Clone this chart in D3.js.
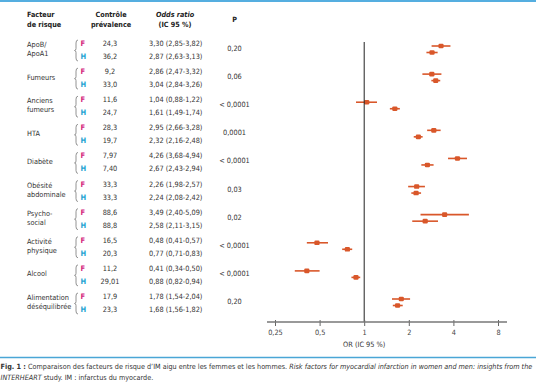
<!DOCTYPE html>
<html>
<head>
<meta charset="utf-8">
<script src="https://cdn.jsdelivr.net/npm/d3@7"></script>
<style>
  body { margin: 0; background: #fff; }
  svg { display: block; font-family: "Liberation Sans Narrow", "DejaVu Sans Condensed", "Roboto", sans-serif; }
  .txt { fill: #333; font-size: 7.3px; }
  .hdr { fill: #222; font-size: 7.2px; font-weight: bold; }
</style>
</head>
<body>
<div id="graph"></div>
<script>
var facteurs = [
  ['ApoB/', 'ApoA1'], ['Fumeurs'], ['Anciens', 'fumeurs'], ['HTA'], ['Diabète'],
  ['Obésité', 'abdominale'], ['Psycho-', 'social'], ['Activité', 'physique'],
  ['Alcool'], ['Alimentation', 'déséquilibrée'],
]
var prevF = ['24,3', '9,2', '11,6', '28,3', '7,97', '33,3', '88,6', '16,5', '11,2', '17,9']
var prevH = ['36,2', '33,0', '24,7', '19,7', '7,40', '33,3', '88,8', '20,3', '29,01', '23,3']
var orF = [3.30, 2.86, 1.04, 2.95, 4.26, 2.26, 3.49, 0.48, 0.41, 1.78]
var loF = [2.85, 2.47, 0.88, 2.66, 3.68, 1.98, 2.40, 0.41, 0.34, 1.54]
var hiF = [3.82, 3.32, 1.22, 3.28, 4.94, 2.57, 5.09, 0.57, 0.50, 2.04]
var orH = [2.87, 3.04, 1.61, 2.32, 2.67, 2.24, 2.58, 0.77, 0.88, 1.68]
var loH = [2.63, 2.84, 1.49, 2.16, 2.43, 2.08, 2.11, 0.71, 0.82, 1.56]
var hiH = [3.13, 3.26, 1.74, 2.48, 2.94, 2.42, 3.15, 0.83, 0.94, 1.82]
var pValues = ['0,20', '0,06', '< 0,0001', '0,0001', '< 0,0001', '0,03', '0,02', '< 0,0001', '< 0,0001', '0,20']
var tickValues = [0.25, 0.5, 1, 2, 4, 8]
var tickLabels = ['0,25', '0,5', '1', '2', '4', '8']

var fr = d3.formatLocale({ decimal: ',', thousands: ' ', grouping: [3], currency: ['', ' €'] })
var f2 = fr.format('.2f')
var orText = (o, l, h) => f2(o) + ' (' + f2(l) + '-' + f2(h) + ')'

var markColor = '#d9572a'

var svg = d3.select('#graph').append('svg')
  .attr('width', 536)
  .attr('height', 386)

// top rule and caption rule
svg.append('rect').attr('x', 0).attr('y', 0).attr('width', 536).attr('height', 2).attr('fill', '#55aee0')
svg.append('line').attr('x1', 0).attr('x2', 536).attr('y1', 357.5).attr('y2', 357.5)
  .attr('stroke', '#4aa6d6').attr('stroke-width', 1.5)

var x = d3.scaleLog().base(2).domain([0.25, 8]).range([275, 498])
var row = d3.scaleLinear().domain([0, facteurs.length - 1]).range([44, 297])
var rowGap = 13

// headers
var hdr = svg.append('g').attr('class', 'hdr').attr('dominant-baseline', 'middle')
hdr.append('text').attr('x', 27).attr('y', 15).text('Facteur')
hdr.append('text').attr('x', 27).attr('y', 25).text('de risque')
hdr.append('text').attr('x', 111).attr('y', 15).attr('text-anchor', 'middle').text('Contrôle')
hdr.append('text').attr('x', 111).attr('y', 25).attr('text-anchor', 'middle').text('prévalence')
hdr.append('text').attr('x', 175).attr('y', 15).attr('text-anchor', 'middle').attr('font-style', 'italic').text('Odds ratio')
hdr.append('text').attr('x', 175).attr('y', 25).attr('text-anchor', 'middle').text('(IC 95 %)')
hdr.append('text').attr('x', 234.5).attr('y', 20).attr('text-anchor', 'middle').text('P')

var groups = svg.selectAll('.grp')
  .data(facteurs)
  .join('g')
  .attr('class', 'grp')

groups.each(function(lines, i) {
  var g = d3.select(this)
  var yF = row(i)
  var yH = yF + rowGap
  var mid = (yF + yH) / 2

  g.selectAll('.lbl')
    .data(lines)
    .join('text')
    .attr('class', 'txt')
    .attr('x', 27)
    .attr('y', (d, k) => mid - 1 + (k - (lines.length - 1) / 2) * 9)
    .attr('dominant-baseline', 'middle')
    .text(d => d)

  // brace
  var bx = 76
  g.append('path')
    .attr('d', 'M' + (bx + 2) + ',' + (yF - 4) + ' Q' + bx + ',' + (yF - 4) + ' ' + bx + ',' + (yF - 1) +
      ' L' + bx + ',' + (mid - 2) + ' Q' + bx + ',' + mid + ' ' + (bx - 1.5) + ',' + mid +
      ' Q' + bx + ',' + mid + ' ' + bx + ',' + (mid + 2) +
      ' L' + bx + ',' + (yH + 1) + ' Q' + bx + ',' + (yH + 4) + ' ' + (bx + 2) + ',' + (yH + 4))
    .attr('fill', 'none')
    .attr('stroke', '#777')
    .attr('stroke-width', 0.8)

  g.append('text').attr('x', 80.5).attr('y', yF).attr('dominant-baseline', 'middle')
    .attr('font-size', '7.5px').attr('font-weight', 'bold').attr('fill', '#d4267e').text('F')
  g.append('text').attr('x', 80.5).attr('y', yH).attr('dominant-baseline', 'middle')
    .attr('font-size', '7.5px').attr('font-weight', 'bold').attr('fill', '#1fa3d2').text('H')

  g.append('text').attr('class', 'txt').attr('x', 110).attr('y', yF).attr('text-anchor', 'middle')
    .attr('dominant-baseline', 'middle').text(prevF[i])
  g.append('text').attr('class', 'txt').attr('x', 110).attr('y', yH).attr('text-anchor', 'middle')
    .attr('dominant-baseline', 'middle').text(prevH[i])

  g.append('text').attr('class', 'txt').attr('x', 149).attr('y', yF)
    .attr('dominant-baseline', 'middle').text(orText(orF[i], loF[i], hiF[i]))
  g.append('text').attr('class', 'txt').attr('x', 149).attr('y', yH)
    .attr('dominant-baseline', 'middle').text(orText(orH[i], loH[i], hiH[i]))

  g.append('text').attr('class', 'txt').attr('x', 234.5).attr('y', mid - 1.5).attr('text-anchor', 'middle')
    .attr('dominant-baseline', 'middle').text(pValues[i])

  // forest marks
  var pts = [
    { y: yF + 2, o: orF[i], l: loF[i], h: hiF[i] },
    { y: yF + 8.5, o: orH[i], l: loH[i], h: hiH[i] },
  ]
  pts.forEach(function(p) {
    g.append('line')
      .attr('x1', x(p.l)).attr('x2', x(p.h))
      .attr('y1', p.y).attr('y2', p.y)
      .attr('stroke', markColor).attr('stroke-width', 1.6)
    g.append('rect')
      .attr('x', x(p.o) - 2.6).attr('y', p.y - 2.3)
      .attr('width', 5.2).attr('height', 4.6)
      .attr('rx', 1.2)
      .attr('fill', markColor)
  })
})

// reference line at OR = 1
svg.append('line')
  .attr('x1', x(1)).attr('x2', x(1))
  .attr('y1', 42).attr('y2', 322)
  .attr('stroke', '#222').attr('stroke-width', 1)

// axis
var axis = d3.axisBottom(x)
  .tickValues(tickValues)
  .tickFormat((d, i) => tickLabels[i])
  .tickSize(4)
  .tickPadding(4)

var ax = svg.append('g').attr('transform', 'translate(0,322)').call(axis)
ax.select('.domain').remove()
ax.selectAll('.tick line').attr('stroke', '#666').attr('y1', -2).attr('y2', 4)
ax.selectAll('.tick text')
  .attr('fill', '#444')
  .attr('font-size', '7.3px')
  .attr('font-family', '"Liberation Sans Narrow", "DejaVu Sans Condensed", sans-serif')
ax.append('line')
  .attr('x1', x(0.25) - 8).attr('x2', x(8) + 9)
  .attr('stroke', '#777').attr('stroke-width', 1.5)

svg.append('text').attr('class', 'txt').attr('x', x(1)).attr('y', 345)
  .attr('text-anchor', 'middle').attr('dominant-baseline', 'middle').text('OR (IC 95 %)')

// caption
var cap = svg.append('text').attr('x', 0.5).attr('y', 367).attr('font-size', '7.2px')
  .attr('fill', '#333').attr('dominant-baseline', 'middle')
cap.append('tspan').attr('font-weight', 'bold').text('Fig. 1 : ')
cap.append('tspan').text('Comparaison des facteurs de risque d\u2019IM aigu entre les femmes et les hommes. ')
cap.append('tspan').attr('font-style', 'italic').text('Risk factors for myocardial infarction in women and men: insights from the')
var cap2 = svg.append('text').attr('x', 0.5).attr('y', 378).attr('font-size', '7.2px')
  .attr('fill', '#333').attr('dominant-baseline', 'middle')
cap2.append('tspan').attr('font-style', 'italic').text('INTERHEART')
cap2.append('tspan').text(' study. IM : infarctus du myocarde.')
</script>
</body>
</html>
